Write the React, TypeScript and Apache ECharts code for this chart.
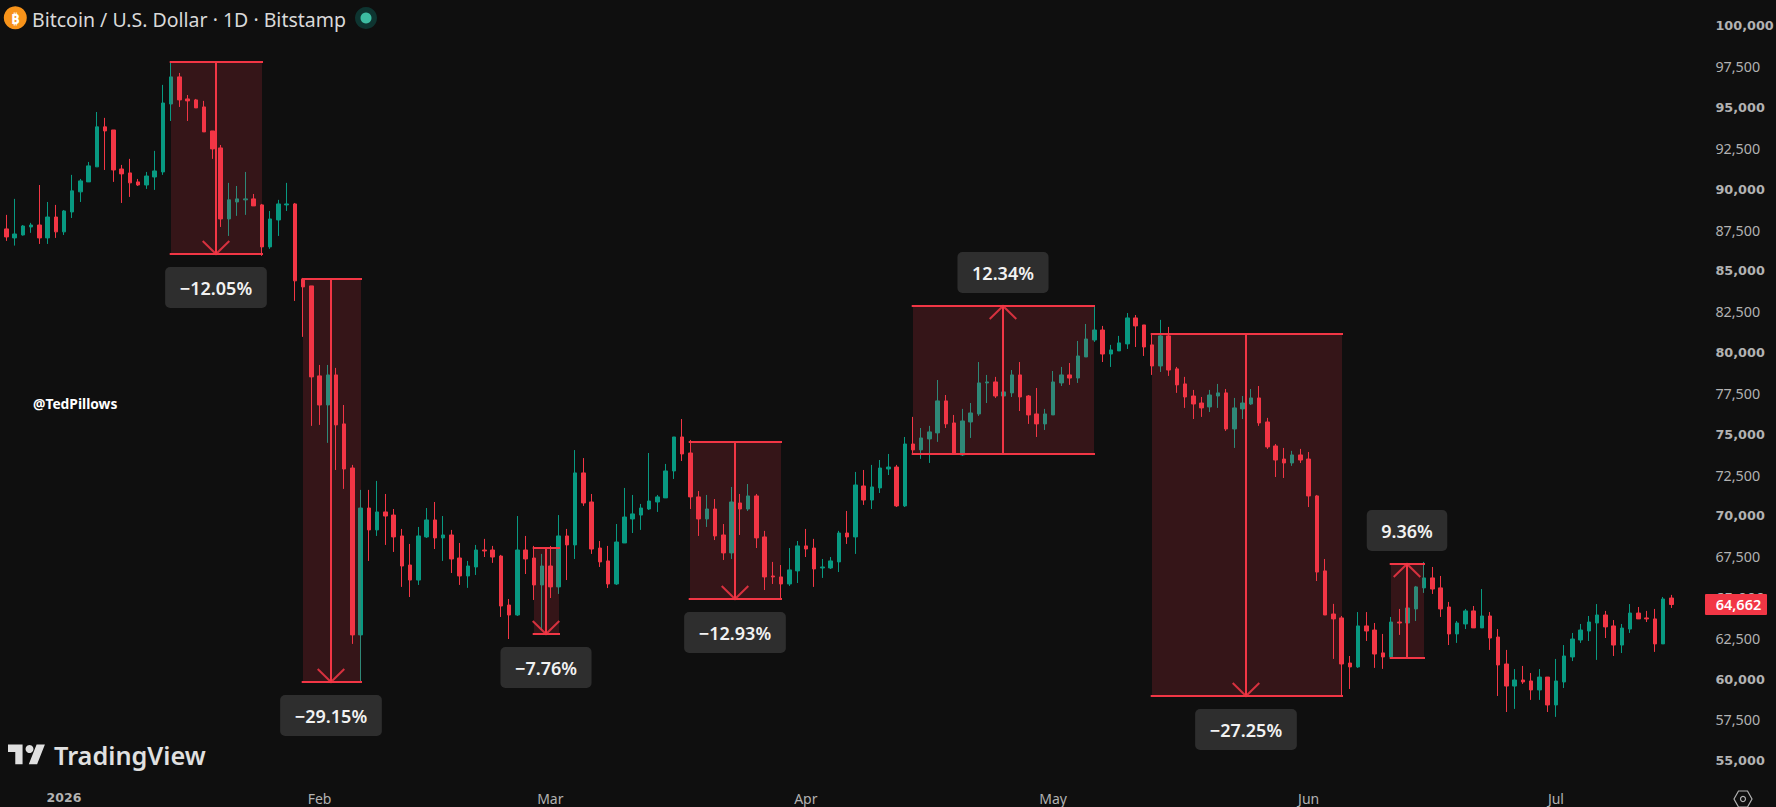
import React, { useEffect, useRef } from "react";
import * as echarts from "echarts";

const opens = [87415,87660,87110,87290,87780,87900,87110,88390,87480,88700,89930,90540,91460,93910,93720,91330,91090,90540,90350,90840,91150,95310,96970,95620,95560,95130,93660,92620,88270,89310,89440,89500,89130,86560,88210,89130,89190,84580,84170,78660,76880,78720,75720,73020,62800,70570,69230,70330,70140,68860,67080,66160,68800,69840,68740,68920,67510,66410,66960,68000,68000,67630,64630,64020,68000,67510,65860,67020,65740,68860,68310,72720,70940,68120,67330,65920,68430,69900,70140,70510,70940,71190,72840,74920,73940,71250,69900,70510,68920,67820,70880,70510,71310,68800,66410,66350,65920,66720,68250,68120,66900,66900,67270,69040,68800,71920,71060,71800,72960,73080,70700,74490,74130,74800,75170,77130,75780,73820,75840,76330,78230,78290,77430,77620,78720,77430,76330,75720,76270,78230,78720,78530,79820,80860,81470,80000,80190,80620,82210,81780,80560,79270,81110,79090,78170,77430,77000,76760,77430,77620,75410,76640,76940,77310,75840,74370,73570,73330,73820,73570,71310,66720,64080,63840,61080,60840,63350,63100,61700,61450,63590,63530,64390,65680,66290,65680,64510,62860,63470,64270,63230,63960,62670,61020,59670,60040,59980,59430,60220,58510,59920,61450,62490,63040,63530,64020,63350,62180,63160,64140,63840,63780,62250,65060];
const closes = [87660,87170,87350,87840,87900,87110,88390,87480,88760,89990,90600,91520,93910,93660,91270,91030,90480,90350,90900,91210,95370,96970,95560,95500,95070,93600,92560,88270,89440,89500,89500,89070,86560,88270,89190,89190,84480,84110,78600,76880,78720,75660,72960,62800,70570,69230,70330,70080,68800,67020,66160,68860,69840,68740,68920,67450,66410,67020,68000,67940,67570,64570,64020,68000,67450,65860,67020,65740,68860,68310,72720,70880,68060,67270,65920,68490,70020,70210,70570,71000,71250,72840,74920,73880,71250,69900,70510,68860,67820,70940,70510,71310,68740,66350,66350,65920,66780,68250,68060,66840,66960,67330,69040,68800,71980,71060,71860,73020,73080,70700,74490,74130,74860,75230,77130,75720,73880,75900,76390,78230,78290,77430,77680,78720,77370,76270,75720,76330,78290,78720,78530,79880,80920,81470,80000,80250,80680,82210,81720,80430,79270,81110,79020,78110,77370,76940,76700,77490,77620,75410,76700,77000,77310,75780,74310,73510,73330,73820,73510,71310,66650,64020,63780,61020,60840,63350,63040,61630,61450,63590,63530,64450,65740,66290,65610,64390,62860,63530,64270,63230,63960,62610,60960,59670,60040,59920,59430,60220,58510,59980,61510,62550,63100,63590,64020,63290,62180,63220,64140,63780,63780,62250,65000,64662];
const lows = [87395,86925,86640,87250,87420,86740,86740,87110,87290,88330,89310,90540,91460,91270,90540,89250,89620,90290,90110,90050,90970,94270,95130,94270,95070,93600,91950,87780,87230,88460,88520,89070,86010,86440,87230,88760,83250,81050,75600,75660,74560,72900,71740,62250,59940,67330,68860,68310,67880,65740,65120,65860,68740,68060,67330,66590,65860,65680,66470,67570,67210,63900,62550,63960,66530,64940,63100,65060,65310,66160,67450,70700,67760,66960,65670,65860,68430,69040,69230,70450,70330,71190,72350,73450,70510,68860,69410,68610,67390,67450,68920,70390,68120,65550,65920,65000,65800,65980,67570,65740,66290,66840,66650,68370,67760,70760,70510,71490,72590,70630,70630,73880,73580,73330,74620,75470,73880,73760,74860,76210,77000,77310,77190,77370,76510,75720,74920,75350,76270,78040,78110,78230,79820,80740,79510,79210,80190,80310,80430,79880,78720,78900,78660,77620,76700,76020,76150,76450,76700,75290,74250,76020,76880,75600,74190,72470,72410,73150,73330,70630,66100,64020,61330,59080,59490,60780,62430,60780,60720,61450,62800,63400,63650,65370,65310,63900,62180,62310,63160,63230,63220,61880,59060,58080,58270,59800,58820,58820,58080,57780,59550,61200,62310,62430,61270,62610,61510,61690,62920,63780,63590,61760,62250,64450];
const highs = [87742,88520,89500,87900,88030,90350,89310,89130,88820,90970,90720,91760,94820,94460,93720,91580,91950,90720,91150,92440,96480,97900,97210,95860,95620,95500,93660,92800,90480,90290,91150,89800,89190,88760,89440,90480,89250,84660,84170,79330,79330,79150,76880,73210,71680,71680,72230,71430,70510,69290,68370,69410,70570,70940,70080,69230,68430,67330,68310,68680,68250,67700,65000,70080,68860,68250,67760,68250,70140,69290,74120,73630,71430,68550,68250,69590,71800,71370,70820,73940,71370,73270,74920,76020,74740,71610,71370,71120,69590,71860,71430,72040,71430,69170,67270,67080,68120,68550,69290,68680,67450,67570,69170,70390,72780,72900,73210,73510,73880,73210,74920,76150,75470,75600,78410,77490,76270,76640,77000,79510,78720,78600,77920,79020,79510,77490,77920,76640,78960,79210,79450,80800,81840,82940,81720,80560,81110,82510,82390,81780,81230,82090,81660,79210,78600,77800,77370,77800,78170,77860,77310,77430,77860,78040,76090,74490,74250,74070,74190,74000,71370,67450,64700,63960,61510,64200,64200,63530,62860,63900,64390,64700,65800,67270,66960,66410,64820,63650,64390,64570,65610,64200,63160,61880,60710,60900,60470,60710,60220,61330,62180,62920,63470,63960,64690,64270,63710,63470,64690,64510,64270,64390,65120,65250];

const firstDateUTC = Date.UTC(2025, 11, 24);
const totalSlots = 208;
const monthLabels: Record<string, string> = {
  "2026-01-01": "2026",
  "2026-02-01": "Feb",
  "2026-03-01": "Mar",
  "2026-04-01": "Apr",
  "2026-05-01": "May",
  "2026-06-01": "Jun",
  "2026-07-01": "Jul",
};
const categories: string[] = [];
for (let i = 0; i < totalSlots; i++) {
  categories.push(new Date(firstDateUTC + i * 86400000).toISOString().slice(0, 10));
}

const toolStart = [21, 37, 65, 84, 111, 140, 169];
const toolEnd = [32, 44, 68, 95, 133, 163, 173];
const toolTop = [97904, 84596, 68130, 74640, 82960, 81220, 67135];
const toolBottom = [86145, 59934, 62843, 64990, 73850, 59087, 61390];
const toolLabels = ["\u221212.05%", "\u221229.15%", "\u22127.76%", "\u221212.93%", "12.34%", "\u221227.25%", "9.36%"];

const BG = "#0f0f0f";
const RED = "#f23645";
const GREEN = "#089981";
const UI_FONT = '"Noto Sans", sans-serif';
const AXIS_FONT = '"Noto Sans", sans-serif';
const LOGO_D = "M14 22H7V11H0V4h14v18zM28 22h-8l7.5-18h8L28 22z";

function renderTool(params: any, api: any) {
  const i = params.dataIndex;
  const a = api.coord([toolStart[i], toolTop[i]]);
  const b = api.coord([toolEnd[i], toolBottom[i]]);
  const x0 = Math.round(a[0]);
  const x1 = Math.round(b[0]);
  const yTop = Math.round(a[1]);
  const yBottom = Math.round(b[1]);
  const xm = Math.floor((x0 + x1) / 2 - 0.5);
  const isDown = toolLabels[i].startsWith("\u2212");
  const tipY = isDown ? yBottom : yTop;
  const wingY = isDown ? tipY - 13 : tipY + 13;
  const labelW = 10.6 * toolLabels[i].length + 27.5;
  const labelH = 41;
  const labelY = isDown ? yBottom + 13 : yTop - 13 - labelH;
  const line = (p: number, q: number, r: number, s: number) => ({
    type: "line",
    shape: { x1: p, y1: q, x2: r, y2: s },
    style: { stroke: RED, lineWidth: 2 },
  });
  return {
    type: "group",
    children: [
      { type: "rect", shape: { x: x0, y: yTop, width: x1 - x0, height: yBottom - yTop }, style: { fill: "rgba(242,54,69,0.17)" } },
      line(x0 - 1.3, yTop, x1 + 1, yTop),
      line(x0 - 1.3, yBottom, x1 + 1, yBottom),
      line(xm, yTop, xm, yBottom),
      { type: "polyline", shape: { points: [[xm - 13.3, wingY], [xm, tipY], [xm + 13.3, wingY]] }, style: { stroke: RED, lineWidth: 2, fill: "none", opacity: 0.85 } },
      { type: "rect", shape: { x: xm - labelW / 2, y: labelY, width: labelW, height: labelH, r: 5 }, style: { fill: "#2e2e2e" } },
      {
        type: "text",
        style: {
          text: toolLabels[i],
          x: xm,
          y: labelY + labelH / 2,
          align: "center",
          verticalAlign: "middle",
          fill: "#f2f2f2",
          fontFamily: UI_FONT,
          fontSize: 18,
          fontWeight: 600,
        },
      },
    ],
  };
}

export default function App() {
  const ref = useRef<HTMLDivElement>(null);
  useEffect(() => {
    document.body.style.margin = "0";
    document.body.style.background = BG;
    const chart = echarts.init(ref.current!, undefined, { renderer: "svg" });
    echarts.graphic.registerShape("tvlogo", echarts.graphic.extendPath(LOGO_D, {}) as any);
    const candles = opens.map((o, i) => [o, closes[i], lows[i], highs[i]]);
    chart.setOption({
      animation: false,
      backgroundColor: BG,
      grid: { left: -6.07, top: 27.4, width: 1714.5, height: 734.9, containLabel: false, outerBoundsMode: "none" },
      xAxis: {
        type: "category",
        data: categories,
        axisLine: { show: false },
        axisTick: { show: false },
        splitLine: { show: false },
        axisLabel: {
          margin: 29,
          interval: (_: number, v: string) => v in monthLabels,
          formatter: (v: string) => (monthLabels[v] === "2026" ? "{y|2026}" : "{m|" + (monthLabels[v] || "") + "}"),
          rich: {
            y: { fontFamily: "DejaVu Sans", fontSize: 12.5, fontWeight: "bold", color: "#b2b2b2" },
            m: { fontFamily: AXIS_FONT, fontSize: 14, color: "#b2b2b2" },
          },
        },
      },
      yAxis: {
        type: "value",
        position: "right",
        min: 55000,
        max: 100000,
        interval: 2500,
        axisLine: { show: false },
        axisTick: { show: false },
        splitLine: { show: false },
        axisLabel: {
          margin: 7,
          align: "left",
          padding: [0, 0, 3, 0],
          formatter: (v: number) => {
            const s = v.toLocaleString("en-US");
            return v % 5000 === 0 ? "{b|" + s + "}" : "{n|" + s + "}";
          },
          rich: {
            b: { fontFamily: "DejaVu Sans", fontSize: 12.8, fontWeight: "bold", color: "#b2b2b2" },
            n: { fontFamily: AXIS_FONT, fontSize: 14.3, color: "#b2b2b2" },
          },
        },
      },
      series: [
        {
          type: "candlestick",
          data: candles,
          barWidth: 4,
          z: 2,
          silent: true,
          itemStyle: { color: GREEN, color0: RED, borderColor: GREEN, borderColor0: RED, borderWidth: 1 },
        },
        {
          type: "custom",
          data: toolStart.map((s, i) => [s, toolTop[i]]),
          renderItem: renderTool,
          z: 5,
          silent: true,
          clip: false,
        },
      ],
      graphic: [
        { type: "circle", z: 100, shape: { cx: 15.3, cy: 17.7, r: 11.5 }, style: { fill: "#f7931a" } },
        { type: "text", z: 101, style: { text: "\u20BF", x: 15.3, y: 18, align: "center", verticalAlign: "middle", fill: "#ffffff", fontFamily: UI_FONT, fontSize: 15, fontWeight: "bold" } },
        { type: "text", z: 100, style: { text: "Bitcoin / U.S. Dollar \u00B7 1D \u00B7 Bitstamp", x: 32, y: 19, verticalAlign: "middle", fill: "#d9d9d9", fontFamily: UI_FONT, fontSize: 19.5 } },
        { type: "circle", z: 100, shape: { cx: 366, cy: 18, r: 11 }, style: { fill: "#0e3531" } },
        { type: "circle", z: 101, shape: { cx: 366, cy: 18, r: 5.5 }, style: { fill: "#3dbca2" } },
        { type: "text", z: 100, style: { text: "@TedPillows", x: 33, y: 403, verticalAlign: "middle", fill: "#ffffff", fontFamily: UI_FONT, fontSize: 13.8, fontWeight: "bold" } },
        { type: "tvlogo", z: 100, x: 8, y: 740, scaleX: 1.04, scaleY: 1.1, style: { fill: "#e0e0e0" } },
        { type: "circle", z: 100, shape: { cx: 29.5, cy: 749, r: 4 }, style: { fill: "#e0e0e0" } },
        { type: "text", z: 100, style: { text: "TradingView", x: 54, y: 755, verticalAlign: "middle", fill: "#e0e0e0", fontFamily: UI_FONT, fontSize: 25.3, fontWeight: 600 } },
        { type: "rect", z: 100, shape: { x: 1705, y: 594, width: 62, height: 21, r: 1 }, style: { fill: RED } },
        { type: "text", z: 101, style: { text: "64,662", x: 1738.5, y: 604, align: "center", verticalAlign: "middle", fill: "#ffffff", fontFamily: AXIS_FONT, fontSize: 14.5, fontWeight: 600 } },
        { type: "polygon", z: 100, shape: { points: [[1734, 799], [1738.5, 791], [1747.5, 791], [1752, 799], [1747.5, 807], [1738.5, 807]] }, style: { fill: "none", stroke: "#b2b2b2", lineWidth: 1.2 } },
        { type: "circle", z: 100, shape: { cx: 1743, cy: 799, r: 2.5 }, style: { fill: "none", stroke: "#b2b2b2", lineWidth: 1.2 } },
      ],
    });
    return () => chart.dispose();
  }, []);
  return <div ref={ref} style={{ position: "fixed", left: 0, top: 0, width: 1776, height: 807 }} />;
}
